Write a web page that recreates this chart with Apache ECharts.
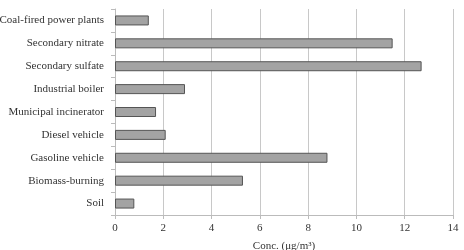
<!DOCTYPE html>
<html>
<head>
<meta charset="utf-8">
<script src="https://cdn.jsdelivr.net/npm/echarts@6/dist/echarts.min.js"></script>
<style>
  html, body { margin: 0; padding: 0; background: #fff; }
  #chart { width: 464px; height: 250px; }
</style>
</head>
<body>
<div id="chart"></div>
<script>
// sources, top to bottom
var sources = [
  "Coal-fired power plants",
  "Secondary nitrate",
  "Secondary sulfate",
  "Industrial boiler",
  "Municipal incinerator",
  "Diesel vehicle",
  "Gasoline vehicle",
  "Biomass-burning",
  "Soil"
];
var conc = [1.4, 11.5, 12.7, 2.9, 1.7, 2.1, 8.8, 5.3, 0.8];

var myChart = echarts.init(document.getElementById("chart"));
var font = "Liberation Serif";
var option = {
  animation: false,
  grid: { left: 115, right: 11, top: 9, bottom: 35, outerBoundsMode: "none" },
  xAxis: {
    type: "value",
    min: 0,
    max: 14,
    interval: 2,
    name: "Conc. (μg/m³)",
    nameLocation: "middle",
    nameGap: 26,
    nameTextStyle: { fontFamily: font, fontSize: 11, color: "#333" },
    axisLine: { show: true, lineStyle: { color: "#bbb" } },
    axisTick: { show: true, length: 4, lineStyle: { color: "#bbb" } },
    axisLabel: { fontFamily: font, fontSize: 11, color: "#333", margin: 8 },
    splitLine: { show: true, lineStyle: { color: "#c8c8c8", width: 1 } }
  },
  yAxis: {
    type: "category",
    data: sources,
    inverse: true,
    axisLine: { show: true, lineStyle: { color: "#bbb" } },
    axisTick: { show: true, length: 4, lineStyle: { color: "#bbb" } },
    axisLabel: { fontFamily: font, fontSize: 11, color: "#333", margin: 11 }
  },
  series: [
    {
      type: "bar",
      data: conc,
      barWidth: 10,
      itemStyle: { color: "#a3a3a3", borderColor: "#555", borderWidth: 1 }
    }
  ]
};
myChart.setOption(option);
</script>
</body>
</html>
